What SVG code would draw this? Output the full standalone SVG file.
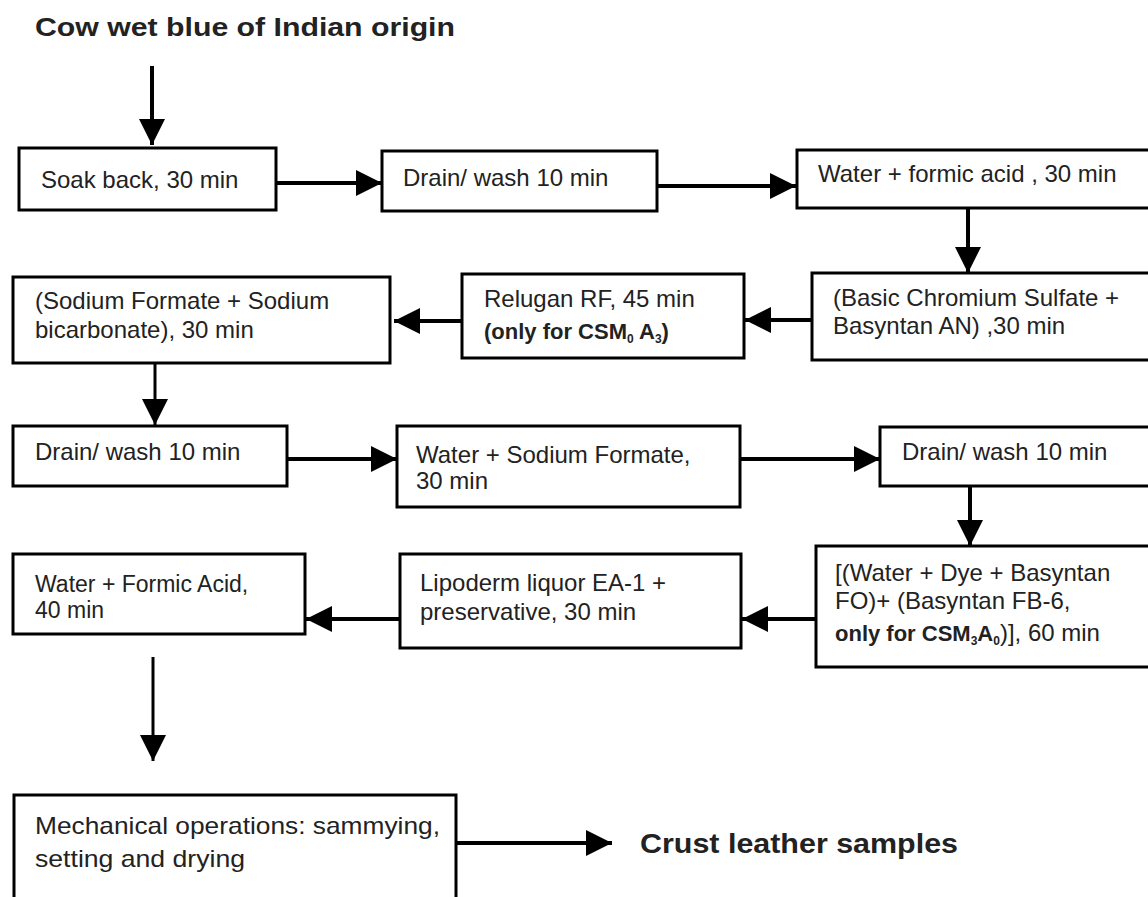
<svg xmlns="http://www.w3.org/2000/svg" width="1148" height="897" viewBox="0 0 1148 897">
<style>
.box{fill:#fff;stroke:#000;stroke-width:3}
.t{font-family:"Liberation Sans",Arial,sans-serif;font-size:24px;fill:#222}
.b{font-weight:bold}
.c{stroke:#000;stroke-width:4;fill:none;marker-end:url(#ah)}
.c2{stroke:#000;stroke-width:3;fill:none;marker-end:url(#ah)}
.sub{font-size:12px}
</style>
<defs>
<marker id="ah" markerUnits="userSpaceOnUse" markerWidth="28" markerHeight="28" refX="26" refY="13" orient="auto">
<path d="M0,0 L26,13 L0,26 z" fill="#000"/>
</marker>
</defs>
<rect width="1148" height="897" fill="#fff"/>
<g id="title"><text x="35" y="36" class="t b" style="font-size:25px" textLength="420" lengthAdjust="spacingAndGlyphs" fill="#111">Cow wet blue of Indian origin</text></g>
<g id="connectors">
<line x1="152" y1="66" x2="152" y2="145" class="c"/>
<line x1="276" y1="183" x2="382" y2="183" class="c"/>
<line x1="657" y1="186" x2="796" y2="186" class="c"/>
<line x1="968" y1="208" x2="968" y2="273" class="c"/>
<line x1="812" y1="320" x2="745" y2="320" class="c"/>
<line x1="462" y1="321" x2="394" y2="321" class="c"/>
<line x1="155" y1="363" x2="155" y2="425" class="c2"/>
<line x1="287" y1="459" x2="397" y2="459" class="c"/>
<line x1="740" y1="459" x2="880" y2="459" class="c"/>
<line x1="970" y1="486" x2="970" y2="546" class="c"/>
<line x1="816" y1="619" x2="742" y2="619" class="c"/>
<line x1="400" y1="619" x2="306" y2="619" class="c"/>
<line x1="153" y1="657" x2="153" y2="761" class="c2"/>
<line x1="456" y1="843" x2="612" y2="843" class="c"/>
</g>
<g id="n1"><rect x="19" y="148" width="257" height="62" class="box"/><text x="41" y="188" class="t">Soak back, 30 min</text></g>
<g id="n2"><rect x="382" y="151" width="275" height="60" class="box"/><text x="403" y="186" class="t">Drain/ wash 10 min</text></g>
<g id="n3"><rect x="797" y="150" width="360" height="58" class="box"/><text x="818" y="182" class="t">Water + formic acid , 30 min</text></g>
<g id="n4"><rect x="812" y="273" width="345" height="87" class="box"/><text x="833" y="306" class="t">(Basic Chromium Sulfate +</text><text x="833" y="334" class="t">Basyntan AN) ,30 min</text></g>
<g id="n5"><rect x="462" y="274" width="282" height="84" class="box"/><text x="484" y="307" class="t">Relugan RF, 45 min</text><text x="484" y="339" class="t b" style="font-size:22px">(only for CSM<tspan class="sub" dy="4">0</tspan><tspan dy="-4"> A</tspan><tspan class="sub" dy="4">3</tspan><tspan dy="-4">)</tspan></text></g>
<g id="n6"><rect x="13" y="277" width="377" height="86" class="box"/><text x="35" y="309" class="t">(Sodium Formate + Sodium</text><text x="35" y="338" class="t">bicarbonate), 30 min</text></g>
<g id="n7"><rect x="13" y="426" width="274" height="60" class="box"/><text x="35" y="460" class="t">Drain/ wash 10 min</text></g>
<g id="n8"><rect x="397" y="426" width="343" height="81" class="box"/><text x="416" y="463" class="t">Water + Sodium Formate,</text><text x="416" y="489" class="t">30 min</text></g>
<g id="n9"><rect x="880" y="427" width="277" height="59" class="box"/><text x="902" y="460" class="t">Drain/ wash 10 min</text></g>
<g id="n10"><rect x="816" y="546" width="341" height="121" class="box"/><text x="835" y="581" class="t">[(Water + Dye + Basyntan</text><text x="835" y="609" class="t">FO)+ (Basyntan FB-6,</text><text x="835" y="641" class="t"><tspan class="b" style="font-size:22px">only for CSM<tspan class="sub" dy="4">3</tspan><tspan dy="-4">A</tspan><tspan class="sub" dy="4">0</tspan></tspan><tspan dy="-4">)], 60 min</tspan></text></g>
<g id="n11"><rect x="400" y="554" width="341" height="94" class="box"/><text x="420" y="591" class="t">Lipoderm liquor EA-1 +</text><text x="420" y="620" class="t">preservative, 30 min</text></g>
<g id="n12"><rect x="13" y="554" width="292" height="80" class="box"/><text x="35" y="592" class="t" style="font-size:23px">Water + Formic Acid,</text><text x="35" y="618" class="t" style="font-size:23px">40 min</text></g>
<g id="n13"><rect x="14" y="795" width="442" height="110" class="box"/><text x="35" y="834" class="t" style="font-size:24px" textLength="405" lengthAdjust="spacingAndGlyphs">Mechanical operations: sammying,</text><text x="35" y="867" class="t" style="font-size:24px" textLength="210" lengthAdjust="spacingAndGlyphs">setting and drying</text></g>
<g id="n14"><text x="640" y="853" class="t b" style="font-size:28px" textLength="318" lengthAdjust="spacingAndGlyphs" fill="#111">Crust leather samples</text></g>
</svg>
